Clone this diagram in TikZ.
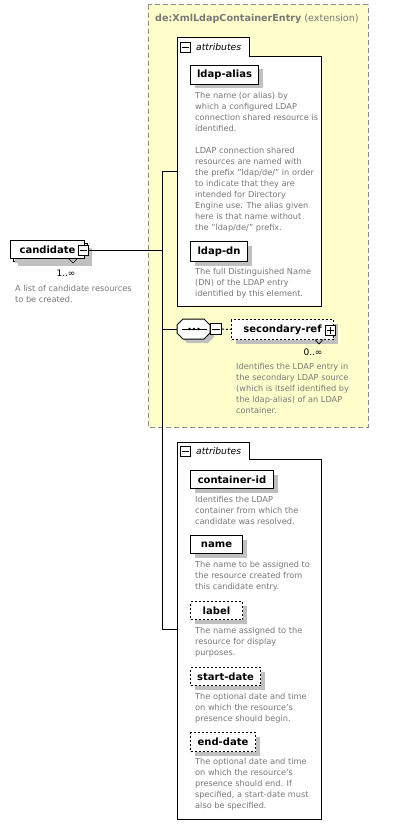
\documentclass[tikz,border=0pt]{standalone}
\usepackage{fontspec}
\setmainfont{DejaVu Sans}
\usetikzlibrary{shadows}
\definecolor{ylw}{HTML}{FFFFCC}
\definecolor{txtg}{HTML}{787878}
\definecolor{shdc}{HTML}{C0C0C0}
\definecolor{brd}{HTML}{8C8C8C}
\tikzset{
  desc/.style={anchor=north west, inner sep=0pt, align=left, text=txtg,
    font=\fontsize{8.2}{11}\selectfont, execute at begin node=\strut},
  shadowed/.style={drop shadow={shadow xshift=4pt, shadow yshift=-4pt, fill=shdc, opacity=1}},
  elem/.style={draw=black, fill=white, line width=1pt, inner sep=0pt, anchor=north west,
    font=\fontsize{10}{11}\selectfont\bfseries, shadowed},
  optelem/.style={elem, dash pattern=on 2pt off 2pt},
  attrbox/.style={draw=black, fill=white, line width=1pt},
  sign/.style={draw=black, fill=white, line width=1pt, inner sep=0pt, minimum size=10pt},
  conn/.style={draw=black, line width=1pt},
  mult/.style={inner sep=0pt, font=\fontsize{9}{10}\selectfont},
  attrlbl/.style={inner sep=0pt, anchor=west, font=\fontsize{9.2}{10}\selectfont\itshape},
  chev/.style={draw=black, line width=0.7pt},
}
\begin{document}
\begin{tikzpicture}[x=1pt,y=-1pt]
\useasboundingbox (0,0) rectangle (409,837);
% extension box
\path[draw=brd, fill=ylw, line width=1pt, dash pattern=on 5pt off 3pt] (148,5) rectangle (368,427);
\node[anchor=west, inner sep=0pt, text=txtg, font=\fontsize{9.6}{11}\selectfont] (title) at (155,19)
  {{\bfseries de:XmlLdapContainerEntry} (extension)};
% attributes box 1
\path[attrbox] (177,38) -- (249,38) -- (249,57) -- (321,57) -- (321,306) -- (177,306) -- cycle;
\node[sign] (t1m) at (185,47.5) {};
\draw[line width=1pt] ([xshift=2pt]t1m.west) -- ([xshift=-2pt]t1m.east);
\node[attrlbl] (t1l) at (196,47.5) {attributes};
\node[elem, minimum width=68pt, minimum height=19pt] (alias) at (190,65) {ldap-alias};
\node[desc] (aliasd) at (195,92.3) {The name (or alias) by\\which a configured LDAP\\connection shared resource is\\identified.\\[11pt]LDAP connection shared\\resources are named with\\the prefix "ldap/de/" in order\\to indicate that they are\\intended for Directory\\Engine use. The alias given\\here is that name without\\the "ldap/de/" prefix.};
\node[elem, minimum width=57pt, minimum height=20pt] (dn) at (190,241) {ldap-dn};
\node[desc] (dnd) at (195,268.3) {The full Distinguished Name\\(DN) of the LDAP entry\\identified by this element.};
% sequence compositor (octagon)
\fill[shdc] (181,329) -- (187,323) -- (208,323) -- (214,329) -- (214,337) -- (208,343) -- (187,343) -- (181,337) -- cycle;
\draw[line width=1pt, fill=white] (177,325) -- (183,319) -- (204,319) -- (210,325) -- (210,333) -- (204,339) -- (183,339) -- (177,333) -- cycle;
\coordinate (seq) at (177,329);
\draw[line width=1pt] (182,329) -- (207,329);
\foreach \dx in {189.5,194,198.5} \fill (\dx,329) circle (1.4pt);
\node[sign, minimum size=11pt] (sm) at (216,329) {};
\draw[line width=1pt] ([xshift=2pt]sm.west) -- ([xshift=-2pt]sm.east);
\node[optelem, minimum width=102pt, minimum height=20pt] (sec) at (231,319) {secondary-ref\hspace{6pt}};
\node[sign] (sp) at (330,330) {};
\draw[line width=1pt] ([xshift=2pt]sp.west) -- ([xshift=-2pt]sp.east) ([yshift=-2pt]sp.north) -- ([yshift=2pt]sp.south);
\draw[chev] (315,339.5) -- (319,344) -- (323,339.5);
\node[mult] (secm) at (313,352) {0..∞};
\draw[line width=1pt, dash pattern=on 2pt off 2pt] (sm.east) -- (sec.west);
\node[desc] (secd) at (236,363.3) {Identifies the LDAP entry in\\the secondary LDAP source\\(which is itself identified by\\the ldap-alias) of an LDAP\\container.};
% attributes box 2
\path[attrbox] (177,442) -- (249,442) -- (249,459) -- (321,459) -- (321,819) -- (177,819) -- cycle;
\node[sign] (t2m) at (185,451.5) {};
\draw[line width=1pt] ([xshift=2pt]t2m.west) -- ([xshift=-2pt]t2m.east);
\node[attrlbl] (t2l) at (196,451.5) {attributes};
\node[elem, minimum width=83pt, minimum height=18pt] (cid) at (190,470) {container-id};
\node[desc] (cidd) at (195,496.3) {Identifies the LDAP\\container from which the\\candidate was resolved.};
\node[elem, minimum width=52pt, minimum height=18pt] (nm) at (190,535) {name};
\node[desc] (nmd) at (195,561.3) {The name to be assigned to\\the resource created from\\this candidate entry.};
\node[optelem, minimum width=52pt, minimum height=18pt] (lb) at (190,601) {label};
\node[desc] (lbd) at (195,627.3) {The name assigned to the\\resource for display\\purposes.};
\node[optelem, minimum width=70pt, minimum height=18pt] (sd) at (190,667) {start-date};
\node[desc] (sdd) at (195,693.3) {The optional date and time\\on which the resource's\\presence should begin.};
\node[optelem, minimum width=65pt, minimum height=19pt] (ed) at (190,732) {end-date};
\node[desc] (edd) at (195,758.3) {The optional date and time\\on which the resource's\\presence should end. If\\specified, a start-date must\\also be specified.};
% candidate
\node[elem, minimum width=74pt, minimum height=18pt] (candb) at (13,243) {};
\node[elem, minimum width=74pt, minimum height=18pt, drop shadow={opacity=0}] (cand) at (10,240) {candidate\hspace{6pt}};
\node[sign] (cm) at (83,250) {};
\draw[line width=1pt] ([xshift=2pt]cm.west) -- ([xshift=-2pt]cm.east);
\draw[chev] (69,259) -- (73,263) -- (77,259);
\node[mult] (candm) at (66,273) {1..∞};
\node[desc] (candd) at (15,285.3) {A list of candidate resources\\to be created.};
% connectors
\coordinate (jc) at (162,250);
\coordinate (jt) at (162,172);
\coordinate (jb) at (162,629);
\coordinate (a1) at (177,172);
\coordinate (a2) at (177,629);
\draw[conn] (cm.east) -- (jc);
\draw[conn] (a1) -- (jt) -- (jb) -- (a2);
\draw[conn] (jt |- seq) -- (seq);
\end{tikzpicture}
\end{document}
